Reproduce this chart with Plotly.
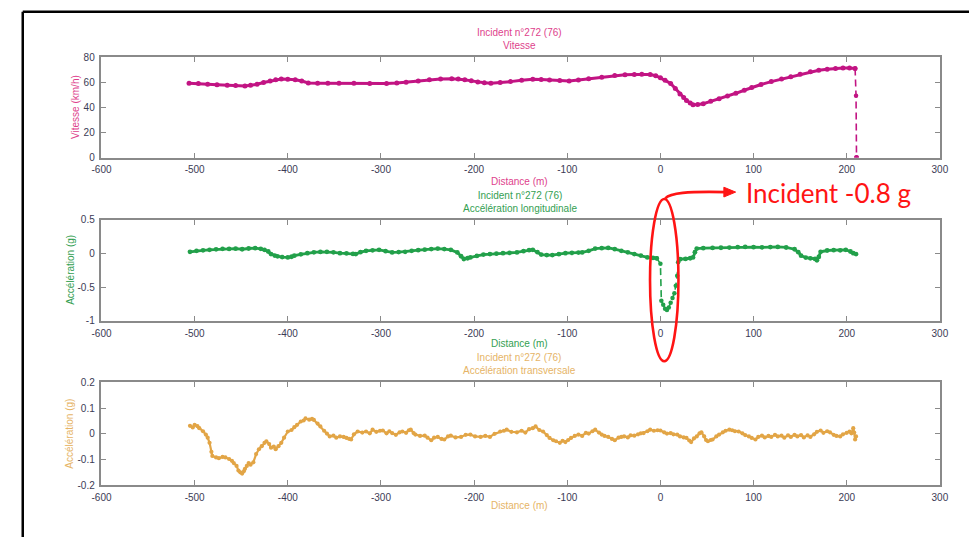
import plotly.graph_objects as go

# ---------------- data ----------------
# Vitesse (km/h) vs distance (m)
speed_x = [-506, -496, -486, -476, -465, -456, -446, -440, -433, -426, -419, -413, -407, -400,
           -392, -385, -378, -368, -357, -345, -329, -312, -294, -283, -273, -260, -248, -236,
           -224, -217, -210, -203, -196, -189, -182, -172, -161, -149, -137, -128, -119, -108,
           -98, -88, -77, -63, -49, -38, -28, -20, -11, -5, 0, 5, 11, 16, 21, 25, 28, 32, 35,
           40, 46, 54, 63, 72, 81, 90, 98, 108, 119, 130, 140, 150, 161, 170, 179, 188, 196,
           203, 209, 210, 210.5]
speed_v = [59.2, 59.0, 58.4, 58.0, 57.6, 57.4, 57.1, 57.6, 58.4, 59.8, 61.0, 61.9, 62.5, 62.4,
           62.0, 61.0, 59.5, 59.3, 59.2, 59.2, 59.2, 59.1, 59.0, 59.4, 60.0, 61.0, 62.0, 62.5,
           62.8, 62.6, 62.0, 61.1, 60.2, 59.6, 59.2, 59.7, 60.5, 61.5, 62.3, 62.2, 61.8, 61.3,
           61.0, 61.8, 62.8, 64.0, 65.4, 65.9, 66.2, 66.3, 66.2, 65.2, 63.6, 61.5, 59.0, 55.0,
           50.7, 47.8, 45.5, 43.5, 42.1, 42.3, 42.9, 44.8, 46.8, 49.0, 51.2, 53.6, 55.9, 58.2,
           60.5, 62.5, 64.4, 66.3, 68.3, 69.5, 70.4, 71.0, 71.4, 71.3, 70.9, 49.3, 0.0]

# Accélération longitudinale (g)
long_x = [-505, -498, -491, -484, -477, -470, -463, -456, -449, -442, -435, -429, -425, -421,
          -418, -414, -411, -406, -400, -396, -393, -386, -379, -372, -365, -358, -351, -344,
          -337, -330, -327, -322, -316, -309, -302, -295, -288, -281, -274, -267, -260, -253,
          -246, -239, -232, -225, -218, -214, -211, -207, -204, -197, -190, -183, -176, -169,
          -162, -154, -147, -141, -137, -132, -128, -122, -116, -109, -102, -95, -88, -84,
          -77, -70, -63, -56, -49, -42, -35, -28, -21, -14, -8, -4, 0, 1, 3, 5, 7, 9, 11, 13,
          15, 16.5, 18, 19, 21, 27, 32, 35, 37, 39, 46, 56, 65, 74, 83, 91, 100, 109, 118,
          126, 135, 144, 148, 151, 156, 161, 166, 168, 170, 172, 179, 186, 193, 199, 204,
          207, 210]
long_v = [0.026, 0.040, 0.048, 0.055, 0.062, 0.070, 0.068, 0.072, 0.064, 0.075, 0.079, 0.070,
          0.055, 0.030, -0.008, -0.030, -0.042, -0.052, -0.057, -0.048, -0.032, -0.012, 0.006,
          0.018, 0.024, 0.026, 0.018, 0.006, 0.002, -0.006, -0.008, 0.020, 0.040, 0.048,
          0.055, 0.035, 0.016, 0.022, 0.026, 0.040, 0.050, 0.058, 0.066, 0.074, 0.066, 0.055,
          0.016, -0.040, -0.081, -0.070, -0.057, -0.035, -0.015, -0.008, 0.000, 0.006, 0.010,
          0.016, 0.035, 0.050, 0.055, 0.020, -0.015, -0.023, -0.023, -0.010, 0.006, 0.010,
          0.014, 0.016, 0.040, 0.074, 0.080, 0.084, 0.065, 0.040, 0.018, -0.008, -0.030,
          -0.057, -0.065, -0.071, -0.150, -0.700, -0.760, -0.820, -0.840, -0.800, -0.730,
          -0.660, -0.590, -0.480, -0.330, -0.130, -0.085, -0.080, -0.070, -0.057, 0.020,
          0.074, 0.080, 0.084, 0.086, 0.088, 0.094, 0.098, 0.095, 0.093, 0.096, 0.098, 0.090,
          0.064, 0.020, -0.032, -0.060, -0.071, -0.080, -0.100, -0.050, 0.026, 0.045, 0.050,
          0.048, 0.055, 0.030, 0.006, -0.008]

# Accélération transversale (g)
trans_x = [-505, -502, -500, -497, -495, -491, -488, -486, -484, -482, -481, -477, -474, -470,
           -467, -463, -460, -458, -455, -453, -451, -449, -447, -446, -444, -442, -440, -437,
           -434, -431, -428, -425, -423, -420, -418, -415, -413, -410, -407, -404, -400, -396,
           -393, -390, -386, -383, -381, -377, -374, -372, -368, -365, -361, -358, -355, -351,
           -348, -344, -340, -337, -334, -332, -329, -325, -320, -316, -312, -309, -305, -301,
           -298, -294, -291, -288, -284, -280, -277, -273, -270, -268, -265, -263, -258, -253,
           -250, -246, -243, -239, -235, -232, -228, -225, -220, -214, -209, -204, -199, -193,
           -188, -183, -178, -172, -168, -165, -160, -154, -149, -145, -141, -137, -134, -130,
           -126, -122, -119, -115, -112, -108, -105, -102, -99, -96, -92, -88, -84, -80, -77,
           -73, -70, -66, -63, -60, -56, -52, -49, -45, -42, -39, -35, -32, -28, -24, -21, -18,
           -14, -11, -7, -3, 0, 4, 7, 11, 14, 18, 21, 25, 28, 31, 33, 36, 39, 42, 44, 47, 49,
           51, 54, 56, 60, 63, 67, 70, 74, 77, 80, 84, 88, 91, 95, 98, 102, 105, 109, 112, 116,
           119, 123, 126, 130, 133, 137, 140, 144, 147, 151, 154, 158, 161, 165, 168, 172, 175,
           179, 182, 186, 189, 193, 196, 200, 203, 205, 207, 208, 209, 210]
trans_v = [0.031, 0.025, 0.035, 0.030, 0.022, 0.010, -0.003, -0.015, -0.035, -0.070, -0.086,
           -0.092, -0.095, -0.090, -0.092, -0.098, -0.105, -0.114, -0.125, -0.143, -0.150,
           -0.155, -0.145, -0.136, -0.125, -0.114, -0.120, -0.111, -0.079, -0.060, -0.048,
           -0.035, -0.029, -0.040, -0.054, -0.050, -0.060, -0.048, -0.035, -0.015, 0.009,
           0.015, 0.026, 0.035, 0.048, 0.052, 0.060, 0.055, 0.058, 0.054, 0.040, 0.029, 0.012,
           0.001, -0.010, -0.007, -0.015, -0.010, -0.012, -0.016, -0.020, -0.022, -0.002,
           0.009, 0.005, 0.009, 0.002, 0.016, 0.008, 0.012, 0.013, 0.002, 0.010, 0.003, -0.004,
           0.006, 0.009, 0.004, 0.014, 0.016, 0.003, -0.003, -0.008, -0.007, -0.015, -0.025,
           -0.015, -0.012, -0.020, -0.022, -0.010, -0.007, -0.014, -0.012, -0.004, -0.003,
           -0.010, -0.012, -0.008, -0.012, 0.000, 0.009, 0.012, 0.016, 0.008, 0.006, 0.012,
           0.005, 0.018, 0.022, 0.029, 0.015, 0.009, -0.005, -0.016, -0.025, -0.029, -0.035,
           -0.027, -0.032, -0.024, -0.016, -0.008, -0.003, -0.008, 0.004, 0.001, 0.010, 0.016,
           0.005, -0.003, -0.008, -0.012, -0.020, -0.025, -0.015, -0.012, -0.010, -0.014,
           -0.006, -0.007, -0.002, 0.002, 0.003, 0.010, 0.016, 0.012, 0.014, 0.013, 0.006,
           0.001, 0.003, -0.002, -0.003, -0.010, -0.014, -0.016, -0.026, -0.032, -0.018,
           -0.010, 0.002, 0.006, -0.010, -0.024, -0.029, -0.024, -0.022, -0.010, -0.003, 0.006,
           0.012, 0.016, 0.014, 0.010, 0.009, 0.002, -0.005, -0.010, -0.016, -0.022, -0.012,
           -0.007, -0.014, -0.008, -0.012, -0.004, -0.010, -0.007, -0.015, -0.006, -0.012,
           -0.004, -0.010, -0.005, -0.014, -0.006, -0.012, -0.002, 0.008, 0.013, 0.004, 0.010,
           0.006, -0.004, -0.008, -0.010, -0.002, 0.004, 0.009, 0.002, 0.022, 0.005, -0.022,
           -0.010]

# Stretches where the logger samples are sparse (drawn dashed): (first index, last index)
speed_sparse = (80, 82)
long_sparse = (81, 94)

x_ticks = [-600, -500, -400, -300, -200, -100, 0, 100, 200, 300]
x_tick_text = ["-600", "-500", "-400", "-300", "-200", "-100", "0", "100", "200", "300"]
speed_ticks = [0, 20, 40, 60, 80]
speed_tick_text = ["0", "20", "40", "60", "80"]
long_ticks = [-1, -0.5, 0, 0.5]
long_tick_text = ["-1", "-0.5", "0", "0.5"]
trans_ticks = [-0.2, -0.1, 0, 0.1, 0.2]
trans_tick_text = ["-0.2", "-0.1", "0", "0.1", "0.2"]

# ---------------- styling ----------------
W, H = 978, 543
MAGENTA, MAGENTA_TXT = "#c21483", "#de3f8c"
GREEN, GREEN_TXT = "#22a04a", "#33a052"
ORANGE, ORANGE_TXT = "#e2a546", "#e6b466"
RED = "#ff1414"
TICK_FONT = dict(family="Liberation Sans Narrow, Liberation Sans, Arial, sans-serif",
                 size=10, color="#3b3b55")
LABEL_FAMILY = "Liberation Sans Narrow, Liberation Sans, Arial, sans-serif"


def px(x):
    return x / W


def py(y):
    return 1 - y / H


fig = go.Figure()


def series(x, y, color, xa, ya, width, sparse=None):
    """Solid beaded line; an optional sparse stretch is drawn dashed."""
    if sparse is None:
        solid_x, solid_y = list(x), list(y)
        dash_x, dash_y = [], []
    else:
        a, b = sparse
        solid_x = list(x[:a + 1]) + [None] + list(x[b:])
        solid_y = list(y[:a + 1]) + [None] + list(y[b:])
        dash_x, dash_y = list(x[a:b + 1]), list(y[a:b + 1])
    fig.add_trace(go.Scatter(
        x=solid_x, y=solid_y, mode="lines+markers", xaxis=xa, yaxis=ya,
        line=dict(color=color, width=width), connectgaps=False,
        marker=dict(color=color, size=width + 2),
        showlegend=False, hoverinfo="x+y"))
    if dash_x:
        fig.add_trace(go.Scatter(
            x=dash_x, y=dash_y, mode="lines+markers", xaxis=xa, yaxis=ya,
            line=dict(color=color, width=1.6, dash="7px,4px"),
            marker=dict(color=color, size=4.5),
            showlegend=False, hoverinfo="x+y"))


series(speed_x, speed_v, MAGENTA, "x", "y", 3.0, speed_sparse)
series(long_x, long_v, GREEN, "x2", "y2", 2.8, long_sparse)
series(trans_x, trans_v, ORANGE, "x3", "y3", 2.2)

x_dom = [px(93.3), px(948.3)]
panels = [  # (y-domain in pixels, y range, ticks, tick text)
    ((52.3, 155.0), [0, 80], speed_ticks, speed_tick_text),
    ((218.7, 322.0), [-1, 0.5], long_ticks, long_tick_text),
    ((385.0, 490.0), [-0.2, 0.2], trans_ticks, trans_tick_text),
]

axis_common = dict(showline=True, linecolor="#8a8a8a", linewidth=1.5, mirror="ticks",
                   ticks="inside", ticklen=5, tickwidth=1.3, tickcolor="#8a8a8a",
                   showgrid=False, zeroline=False, tickfont=TICK_FONT, fixedrange=True)

layout = dict(width=W, height=H, margin=dict(l=0, r=0, t=0, b=0),
              paper_bgcolor="white", plot_bgcolor="white", showlegend=False)
for i, ((top, bot), yr, yt, ytt) in enumerate(panels, start=1):
    sfx = "" if i == 1 else str(i)
    layout["xaxis" + sfx] = dict(domain=x_dom, anchor="y" + sfx, range=[-600, 300],
                                 tickvals=x_ticks, ticktext=x_tick_text, ticklabelstandoff=2,
                                 **axis_common)
    layout["yaxis" + sfx] = dict(domain=[py(bot), py(top)], anchor="x" + sfx, range=yr,
                                 tickvals=yt, ticktext=ytt, ticklabelstandoff=3,
                                 **axis_common)
fig.update_layout(**layout)

# Titles and axis labels
texts = [
    ("Incident n°272 (76)<br>Vitesse", 520, 33.5, MAGENTA_TXT, 0),
    ("Distance (m)", 520, 179, MAGENTA_TXT, 0),
    ("Vitesse (km/h)", 66, 103.5, MAGENTA_TXT, -90),
    ("Incident n°272 (76)<br>Accélération longitudinale", 520, 200.5, GREEN_TXT, 0),
    ("Distance (m)", 520, 345, GREEN_TXT, 0),
    ("Accélération (g)", 61, 270, GREEN_TXT, -90),
    ("Incident n°272 (76)<br>Accélération transversale", 520, 366.5, ORANGE_TXT, 0),
    ("Distance (m)", 520, 511, ORANGE_TXT, 0),
    ("Accélération (g)", 61, 437.5, ORANGE_TXT, -90),
]
for txt, x, y, col, ang in texts:
    fig.add_annotation(text=txt, x=px(x), y=py(y), xref="paper", yref="paper",
                       showarrow=False, textangle=ang, xanchor="center", yanchor="middle",
                       font=dict(family=LABEL_FAMILY, size=10, color=col))

# Callout on the braking peak of the longitudinal acceleration
peak = min(long_v)
fig.add_shape(type="circle", xref="paper", yref="paper",
              x0=px(652.7), x1=px(681.7), y0=py(363.3), y1=py(197.3),
              line=dict(color=RED, width=2.6))
curve = "M {:.5f},{:.5f} C {:.5f},{:.5f} {:.5f},{:.5f} {:.5f},{:.5f}".format(
    px(668.3), py(196.7), px(673.5), py(191.0), px(690.0), py(189.5), px(730.0), py(190.3))
fig.add_shape(type="path", xref="paper", yref="paper", path=curve,
              line=dict(color=RED, width=2.6))
head = "M {:.5f},{:.5f} L {:.5f},{:.5f} L {:.5f},{:.5f} Z".format(
    px(740.0), py(190.3), px(728.0), py(185.3), px(728.0), py(195.3))
fig.add_shape(type="path", xref="paper", yref="paper", path=head,
              fillcolor=RED, line=dict(color=RED, width=1))
fig.add_annotation(text=f"Incident {peak:.1f} g", x=px(749), y=py(191), xref="paper",
                   yref="paper", showarrow=False, xanchor="left", yanchor="middle",
                   font=dict(family="Lato, Open Sans, sans-serif", size=26, color=RED))

# Page frame
fig.add_shape(type="line", xref="paper", yref="paper", x0=px(13), x1=1.0, y0=py(6), y1=py(6),
              line=dict(color="black", width=2.5))
fig.add_shape(type="line", xref="paper", yref="paper", x0=px(13), x1=px(13), y0=py(6), y1=0,
              line=dict(color="black", width=2.5))

fig.write_html("out.html")
